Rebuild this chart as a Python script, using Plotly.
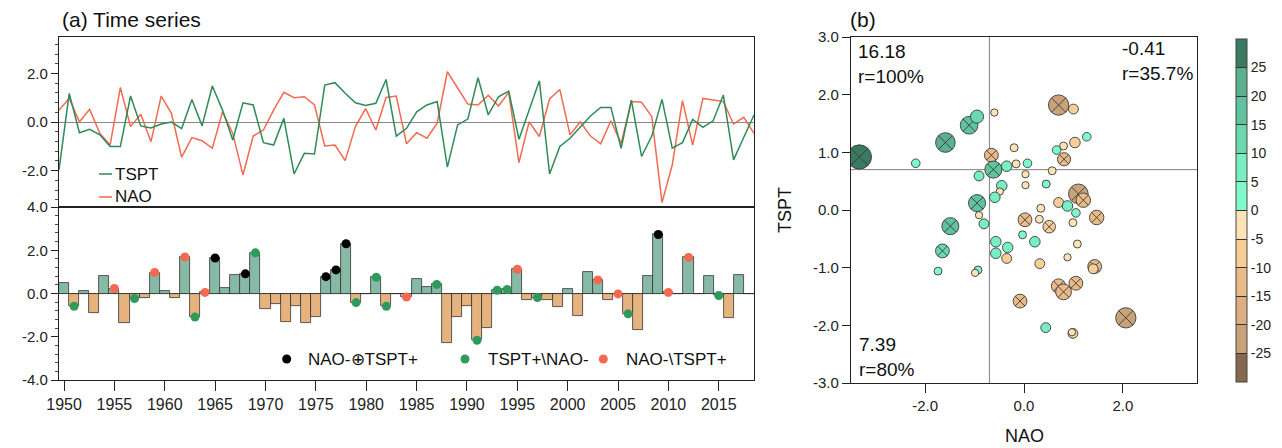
import plotly.graph_objects as go

W, H = 1282, 448
def px(x): return x / W
def py(y): return 1 - y / H

# ---------------- data ----------------
years = list(range(1950, 2019))
tspt = [-1.97, 1.18, -0.44, -0.30, -0.53, -1.01, -1.01, 1.07, -0.16, -0.25,
        -0.08, 0.00, -0.27, 0.93, -0.16, 1.48, 0.49, -0.74, 0.79, 0.70,
        -0.85, -0.95, 0.15, -2.14, -1.29, -1.32, 1.52, 1.62, 1.18, 0.79,
        0.68, 0.77, 1.75, -0.58, -0.26, 0.42, 0.70, 0.84, -1.86, -0.12,
        0.12, 1.82, 0.29, 1.04, 1.27, -0.71, 0.49, 1.70, -2.14, -1.01,
        -0.67, -0.19, 0.25, 0.60, 0.60, -1.08, 0.90, -1.42, -0.58, 0.93,
        -1.08, -0.85, 0.11, -0.22, 0.05, 1.11, -1.56, -0.63, 0.29]
nao = [0.49, 0.97, 0.01, 0.52, -0.47, -0.95, 1.42, -0.19, 0.32, -0.81,
       1.07, 0.36, -1.45, -0.64, -0.77, -1.08, 0.42, -0.47, -2.18, -0.58,
       -0.33, 0.49, 1.22, 1.00, 1.04, 0.70, -0.99, -0.95, -1.59, -0.19,
       0.55, -0.33, 1.01, 1.07, -0.90, -0.44, -0.67, -0.05, 2.07, 1.38,
       0.74, 0.70, 1.10, 0.66, 1.22, -1.67, 0.01, -0.60, 0.95, 1.34,
       -0.53, 0.01, -0.58, -0.90, 0.05, -0.88, 0.84, 0.81, 0.22, -3.32,
       -1.77, 0.88, -0.95, 0.97, 0.90, 0.84, -0.08, 0.19, -0.47]
bar_vals = [0.50, -0.59, 0.13, -0.91, 0.81, 0.23, -1.38, -0.23, -0.20, 0.97,
            0.13, -0.20, 1.69, -1.09, 0.05, 1.64, 0.27, 0.86, 0.91, 1.88,
            -0.73, -0.50, -1.34, -0.56, -1.38, -1.09, 0.78, 1.09, 2.30, -0.42,
            0.00, 0.75, -0.59, 0.00, -0.16, 0.67, 0.28, 0.42, -2.30, -1.09,
            -0.59, -2.16, -1.59, 0.15, 0.19, 1.12, -0.31, -0.19, -0.31, -0.63,
            0.19, -1.02, 0.98, 0.63, -0.31, -0.02, -0.94, -1.67, 0.81, 2.73,
            0.05, 0.00, 1.67, 0.00, 0.81, -0.09, -1.13, 0.84, 0.00]
both_years = [1965, 1968, 1976, 1977, 1978, 2009]
tspt_only_years = [1951, 1957, 1963, 1969, 1979, 1981, 1982, 1987, 1991,
                   1993, 1994, 1997, 2006, 2015]
nao_only_years = [1955, 1959, 1962, 1964, 1984, 1995, 2003, 2005, 2010, 2012]

sc_nao = [-3.33, -2.19, -1.59, -1.11, -0.95, -0.60, -0.20, -0.66, -0.62, -0.35,
          -0.16, 0.07, -0.91, 0.03, 0.03, 0.57, 0.45, -0.45, -0.49, -0.59,
          -0.95, -0.91, -0.81, -1.49, 0.70, 1.00, 1.27, 1.03, 0.80, 0.66,
          0.81, 1.10, 1.20, 0.70, 0.88, 1.05, 1.47, 0.34, 0.31, 0.02,
          0.51, 0.99, -0.03, 0.22, -0.57, -0.33, -0.57, -0.35, 1.08, 0.88,
          0.32, 1.43, 1.40, -0.93, -0.99, 0.70, 0.80, 1.05, -0.08, 0.44,
          0.99, 2.06, -1.65, -1.74, 0.97]
sc_tspt = [0.92, 0.81, 1.17, 1.47, 1.62, 1.69, 1.08, 0.95, 0.70, 0.76,
           0.80, 0.81, 0.59, 0.62, 0.43, 0.68, 0.45, 0.42, 0.32, 0.22,
           0.12, -0.09, -0.24, -0.28, 1.82, 1.75, 1.27, 1.17, 1.11, 1.04,
           0.88, 0.28, 0.17, 0.13, 0.07, -0.05, -0.13, 0.03, -0.16, -0.17,
           -0.29, -0.22, -0.43, -0.55, -0.55, -0.65, -0.75, -0.84, -0.59, -0.82,
           -0.93, -0.98, -1.02, -1.04, -1.09, -1.32, -1.42, -1.27, -1.58, -2.04,
           -2.14, -1.87, -0.71, -1.06, -2.12]
sc_val = [28, 4, 21, 18, 11, -2, -3, -12, 17, 7,
          -3, 4, 6, -2, -2, -3, 3, 7, -2, 7,
          17, -2, 6, 17, -22, -6, 4, -7, -3, 4,
          -11, -21, -13, -6, 7, 4, -13, -3, -3, -12,
          -10, -3, 3, 7, 7, 7, 7, -6, -3, -2,
          -6, -12, -6, 3, -2, -13, -15, -12, -12, 6,
          -6, -22, 12, 3, -2]
sc_sig = [1, 0, 1, 1, 0, 0, 0, 1, 1, 0,
          0, 0, 0, 0, 0, 0, 0, 0, 0, 0,
          1, 0, 0, 1, 1, 0, 0, 0, 0, 0,
          1, 1, 1, 0, 0, 0, 1, 0, 0, 1,
          1, 0, 0, 0, 0, 0, 0, 0, 0, 0,
          0, 1, 0, 0, 0, 1, 1, 1, 1, 0,
          0, 1, 1, 0, 0]
cb_levels = [-25, -20, -15, -10, -5, 0, 5, 10, 15, 20, 25]
cb_colors = ['#85684d', '#c9a27a', '#dcae82', '#e9bb88', '#f7cd98', '#fde3b3',
             '#7ff8ce', '#78eec3', '#6ad9b1', '#60c29e', '#5ab08f', '#3b7a62']
nao_thr, tspt_thr = -0.7, 0.7

# ---------------- styling ----------------
FONT = "Liberation Sans, Arial, Helvetica, sans-serif"
C_TSPT = '#2e8b57'
C_NAO = '#f26a4f'
C_POS = '#86b9a6'
C_NEG = '#e6b37f'
C_DOT_G = '#2f9a5c'
C_DOT_R = '#f46a50'

fig = go.Figure()

# bars
fig.add_trace(go.Bar(x=years, y=bar_vals, xaxis='x2', yaxis='y2', width=1.0,
                     marker=dict(color=[C_POS if v >= 0 else C_NEG for v in bar_vals],
                                 line=dict(color='#333333', width=0.8))))
vmap = dict(zip(years, bar_vals))
for yrs, col in [(both_years, 'black'), (tspt_only_years, C_DOT_G), (nao_only_years, C_DOT_R)]:
    fig.add_trace(go.Scatter(x=yrs, y=[vmap[y] for y in yrs], xaxis='x2', yaxis='y2',
                             mode='markers', marker=dict(color=col, size=9)))

# time series
fig.add_trace(go.Scatter(x=years, y=nao, mode='lines', line=dict(color=C_NAO, width=1.5)))
fig.add_trace(go.Scatter(x=years, y=tspt, mode='lines', line=dict(color=C_TSPT, width=1.5)))

# scatter
cscale = []
n = len(cb_colors)
for i, c in enumerate(cb_colors):
    cscale.append([i / n, c])
    cscale.append([(i + 1) / n, c])
fig.add_trace(go.Scatter(
    x=sc_nao, y=sc_tspt, xaxis='x3', yaxis='y3', mode='markers',
    marker=dict(color=sc_val, cmin=-30, cmax=30, colorscale=cscale, opacity=1,
                size=[6 + 0.65 * abs(v) for v in sc_val],
                symbol=['circle-x' if s else 'circle' for s in sc_sig],
                line=dict(color='#3a3a3a', width=0.9),
                showscale=True,
                colorbar=dict(x=px(1236), xanchor='left', xpad=0,
                              y=py(210.5), yanchor='middle', ypad=0,
                              len=343 / H, lenmode='fraction',
                              thickness=11, thicknessmode='pixels',
                              tickvals=cb_levels, ticktext=[str(v) for v in cb_levels],
                              ticks='inside', ticklen=11, tickcolor='#333333',
                              outlinewidth=1, outlinecolor='#444444',
                              tickfont=dict(size=14, family=FONT, color='#222')))))

axis_line = dict(showline=True, linecolor='#222222', linewidth=1.2, mirror=True,
                 showgrid=False)
tickfont = dict(size=15, family=FONT, color='#222')

fig.update_layout(
    width=W, height=H, margin=dict(l=0, r=0, t=0, b=0, autoexpand=False),
    paper_bgcolor='white', plot_bgcolor='white', showlegend=False,
    font=dict(family=FONT, color='#111'),
    xaxis=dict(domain=[px(59), px(754)], anchor='y', range=[1950, 2018],
               showticklabels=False, ticks='', zeroline=False, **axis_line),
    yaxis=dict(domain=[py(207), py(37)], anchor='x', range=[-3.5, 3.5],
               tickvals=[-2, 0, 2], ticktext=['-2.0', '0.0', '2.0'],
               ticks='outside', ticklen=7, tickcolor='#222', tickfont=tickfont,
               minor=dict(ticks='outside', ticklen=3, dtick=0.4, tick0=0, tickcolor='#444'),
               zeroline=True, zerolinecolor='#888888', zerolinewidth=1.2, **axis_line),
    xaxis2=dict(domain=[px(59), px(754)], anchor='y2', range=[1949.5, 2018.5],
                tickvals=list(range(1950, 2016, 5)), ticks='outside', ticklen=10,
                tickcolor='#222', tickfont=dict(size=16, family=FONT, color='#222'),
                zeroline=False, **axis_line),
    yaxis2=dict(domain=[py(380), py(207)], anchor='x2', range=[-4, 4],
                tickvals=[-4, -2, 0, 2, 4], ticktext=['-4.0', '-2.0', '0.0', '2.0', '4.0'],
                ticks='outside', ticklen=7, tickcolor='#222', tickfont=tickfont,
                minor=dict(ticks='outside', ticklen=3, dtick=0.4, tick0=0, tickcolor='#444'),
                zeroline=True, zerolinecolor='#222222', zerolinewidth=1.2, **axis_line),
    xaxis3=dict(domain=[px(851), px(1197)], anchor='y3', range=[-3.5, 3.5],
                tickvals=[-2, 0, 2], ticktext=['-2.0', '0.0', '2.0'],
                ticks='outside', ticklen=9, tickcolor='#222', tickfont=tickfont,
                zeroline=False, **axis_line),
    yaxis3=dict(domain=[py(383), py(37)], anchor='x3', range=[-3, 3],
                tickvals=[-3, -2, -1, 0, 1, 2, 3],
                ticktext=['-3.0', '-2.0', '-1.0', '0.0', '1.0', '2.0', '3.0'],
                ticks='outside', ticklen=8, tickcolor='#222', tickfont=tickfont,
                zeroline=False, **axis_line),
    bargap=0,
)

shapes = [
    dict(type='line', xref='x3', yref='y3', x0=-3.5, x1=3.5, y0=tspt_thr, y1=tspt_thr,
         line=dict(color='#808080', width=1), layer='below'),
    dict(type='line', xref='x3', yref='y3', x0=nao_thr, x1=nao_thr, y0=-3, y1=3,
         line=dict(color='#808080', width=1), layer='below'),
    # top legend dashes
    dict(type='line', xref='paper', yref='paper', x0=px(99), x1=px(112), y0=py(174), y1=py(174),
         line=dict(color=C_TSPT, width=1.5)),
    dict(type='line', xref='paper', yref='paper', x0=px(99), x1=px(112), y0=py(197), y1=py(197),
         line=dict(color=C_NAO, width=1.5)),
]
for cx, col in [(286.7, 'black'), (465, C_DOT_G), (603.3, C_DOT_R)]:
    shapes.append(dict(type='circle', xref='paper', yref='paper',
                       x0=px(cx - 4.5), x1=px(cx + 4.5), y0=py(359 + 4.5), y1=py(359 - 4.5),
                       fillcolor=col, line=dict(width=0)))
fig.update_layout(shapes=shapes)

def ann(text, x, y, size, xanchor='left', yanchor='middle', **kw):
    return dict(text=text, x=px(x), y=py(y), xref='paper', yref='paper', showarrow=False,
                xanchor=xanchor, yanchor=yanchor, font=dict(size=size, family=FONT, color='#111'),
                align='left', **kw)

annotations = [
    ann('(a) Time series', 60, 19, 21),
    ann('(b)', 848, 19, 21),
    ann('TSPT', 113, 174, 17),
    ann('NAO', 113, 197, 17),
    ann('NAO-\u2295TSPT+', 306, 359, 17),
    ann('TSPT+\\NAO-', 486, 359, 17),
    ann('NAO-\\TSPT+', 624, 359, 17),
    ann('16.18<br>r=100%', 856, 39, 19, yanchor='top'),
    ann('-0.41<br>r=35.7%', 1120, 36, 19, yanchor='top'),
    ann('7.39<br>r=80%', 857, 332, 19, yanchor='top'),
    ann('NAO', 1024, 436, 18, xanchor='center'),
    ann('TSPT', 785, 210, 18, xanchor='center', textangle=-90),
]
fig.update_layout(annotations=annotations)

fig.write_html("out.html", config={'displayModeBar': False},
               post_script="document.body.style.margin='0';document.body.style.padding='0';document.body.style.overflow='hidden';")
